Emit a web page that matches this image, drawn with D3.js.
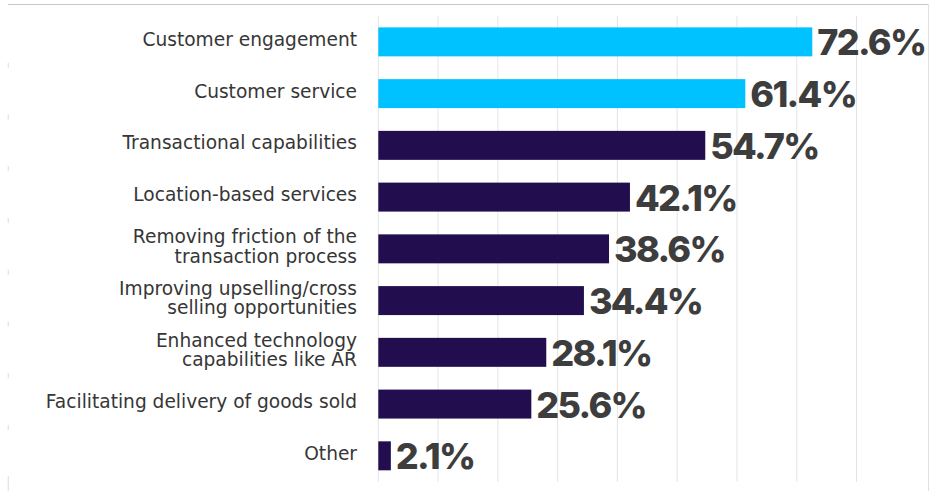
<!DOCTYPE html>
<html>
<head>
<meta charset="utf-8">
<script src="https://cdn.jsdelivr.net/npm/d3@7"></script>
<style>
  html, body { margin: 0; padding: 0; background: #fff; }
  svg { display: block; }
</style>
</head>
<body>
<svg id="chart" width="929" height="491"></svg>
<script>
// Survey results: share of respondents per use case (%)
const categories = [
  "Customer engagement",
  "Customer service",
  "Transactional capabilities",
  "Location-based services",
  "Removing friction of the|transaction process",
  "Improving upselling/cross|selling opportunities",
  "Enhanced technology|capabilities like AR",
  "Facilitating delivery of goods sold",
  "Other"
];
const values = [72.6, 61.4, 54.7, 42.1, 38.6, 34.4, 28.1, 25.6, 2.1];
const highlighted = [true, true, false, false, false, false, false, false, false];
const gridTicks = [0, 10, 20, 30, 40, 50, 60, 70, 80];

const W = 929, H = 491;
const svg = d3.select("#chart");

const x = d3.scaleLinear().domain([0, 80]).range([378.3, 856.5]);
const y = d3.scaleBand()
  .domain(categories)
  .range([16, 481.7])
  .paddingInner(0.44)
  .paddingOuter(0.22);

// frame
svg.append("line")
  .attr("x1", 8).attr("x2", W).attr("y1", 4.5).attr("y2", 4.5)
  .attr("stroke", "#c9c9c9").attr("stroke-width", 1.2);
svg.append("line")
  .attr("x1", 928.5).attr("x2", 928.5).attr("y1", 4).attr("y2", H)
  .attr("stroke", "#e0e0e0").attr("stroke-width", 1);

// left edge ticks at band boundaries
const step = y.step();
const boundaries = categories.slice(0, -1).map(c => y(c) - step * 0.22 + step);
svg.append("g").selectAll("line")
  .data(boundaries)
  .join("line")
  .attr("x1", 8.3).attr("x2", 8.3)
  .attr("y1", d => d - 5).attr("y2", d => d)
  .attr("stroke", "#e2e2e2").attr("stroke-width", 1.2);
svg.append("line")
  .attr("x1", 8.3).attr("x2", 8.3).attr("y1", 476).attr("y2", H)
  .attr("stroke", "#e2e2e2").attr("stroke-width", 1.2);

// vertical gridlines
svg.append("g").selectAll("line")
  .data(gridTicks)
  .join("line")
  .attr("x1", d => x(d)).attr("x2", d => x(d))
  .attr("y1", y.range()[0]).attr("y2", y.range()[1])
  .attr("stroke", "#e4e4e4").attr("stroke-width", 1);

// bars
svg.append("g").selectAll("rect")
  .data(values)
  .join("rect")
  .attr("x", x(0))
  .attr("y", (d, i) => y(categories[i]))
  .attr("width", d => x(d) - x(0))
  .attr("height", y.bandwidth())
  .attr("fill", (d, i) => highlighted[i] ? "#00C2FF" : "#220E4F");

// value labels
svg.append("g").selectAll("text")
  .data(values)
  .join("text")
  .attr("x", d => x(d) + 5)
  .attr("y", (d, i) => y(categories[i]) + y.bandwidth() / 2 + 13.5)
  .attr("font-family", "Inter, 'Noto Sans', sans-serif")
  .attr("font-weight", 800)
  .attr("font-size", 36)
  .attr("letter-spacing", -1.7)
  .attr("fill", "#3d3d3d")
  .text(d => d.toFixed(1) + "%");

// category labels
const labels = svg.append("g")
  .attr("font-family", "'DejaVu Sans', sans-serif")
  .attr("font-size", 18.6)
  .attr("fill", "#363636")
  .attr("text-anchor", "end");
categories.forEach((c, i) => {
  const lines = c.split("|");
  const cy = y(c) + y.bandwidth() / 2;
  const t = labels.append("text");
  lines.forEach((ln, j) => {
    t.append("tspan")
      .attr("x", 357)
      .attr("y", cy + 4 + (j - (lines.length - 1) / 2) * 19.6)
      .text(ln);
  });
});
</script>
</body>
</html>
